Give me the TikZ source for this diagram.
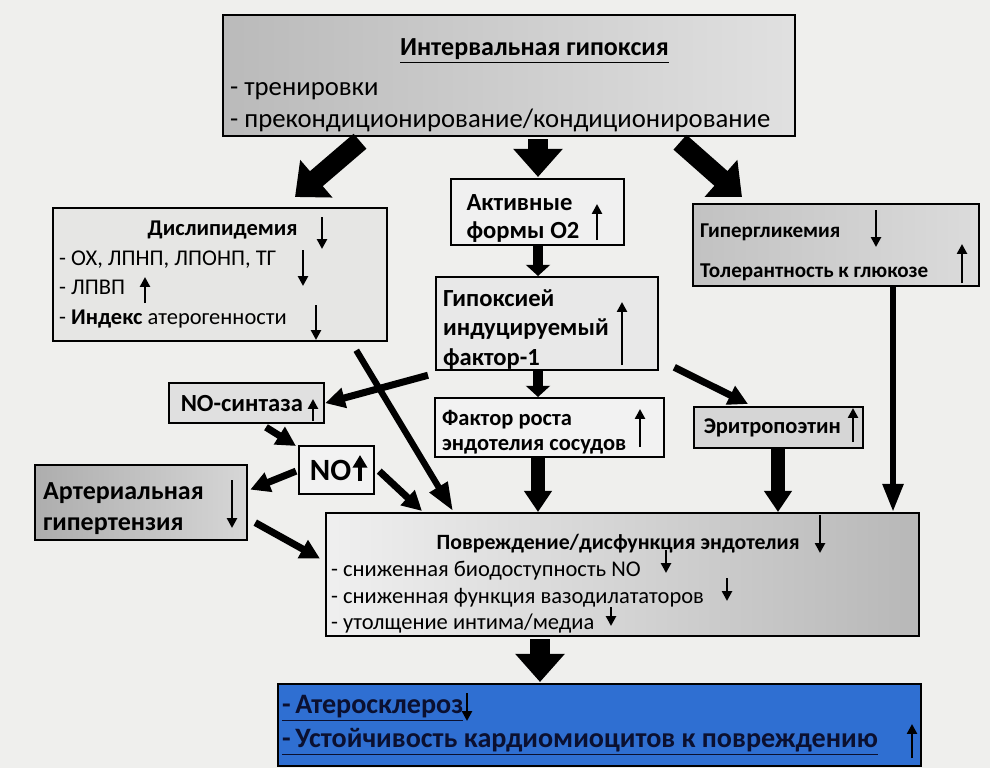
\documentclass[tikz,border=0pt]{standalone}
\usepackage{fontspec}
\setmainfont{Carlito}
\usetikzlibrary{arrows.meta, positioning}
\newcommand\pxl{0.025cm}
\newcommand\lift[1]{\rule{0pt}{#1}}
\definecolor{paper}{HTML}{EFEFED}
\definecolor{boxgray}{HTML}{E6E6E4}
\definecolor{bluebox}{HTML}{2F6FD2}
\definecolor{navy}{HTML}{0B1030}

\begin{document}
\begin{tikzpicture}[
  x=\pxl, y=-\pxl,
  box/.style={draw, line width=1.6pt, anchor=north west, align=flush left, inner ysep=0pt,
              font=\fontsize{16}{20}\selectfont\bfseries},
  fat/.style={-{Triangle[length=20pt,width=34pt]}, line width=14pt},
  mid/.style={-{Triangle[length=8pt,width=17pt]}, line width=7pt},
  slim/.style={-{Triangle[length=14pt,width=14pt]}, line width=5pt},
  tall/.style={-{Triangle[length=15pt,width=19pt]}, line width=10pt},
  thin/.style={-{Triangle[length=20pt,width=14pt]}, line width=4.5pt},
  mk/.style={-{Triangle[length=7pt,width=7pt]}, line width=1.8pt}
]
\useasboundingbox (0,0) rectangle (990,768);
\fill[paper] (0,0) rectangle (990,768);

% top: source
\node[box, left color=black!27, right color=black!12, minimum width=572*\pxl, minimum height=121*\pxl,
      text width=558*\pxl, inner xsep=7*\pxl, font=\fontsize{19}{23}\selectfont] (ihyp) at (222,14)
  {\makebox[\linewidth]{\lift{26pt}\hspace*{36pt}\fontsize{18.5}{23}\selectfont\bfseries\underline{Интервальная гипоксия}}\\[5pt]
   - тренировки\\
   - прекондиционирование/кондиционирование};

% row 2
\node[box, fill=boxgray, minimum width=334*\pxl, minimum height=133*\pxl, text width=322*\pxl,
      inner xsep=6*\pxl, font=\fontsize{16}{21}\selectfont] (dys) at (52,207)
  {\hspace*{63pt}\textbf{Дислипидемия}\\
   - ОХ, ЛПНП, ЛПОНП, ТГ\\
   - ЛПВП\\
   - \textbf{Индекс} атерогенности};
\node[box, fill=black!6, minimum width=173*\pxl, minimum height=66*\pxl, text width=159*\pxl,
      inner xsep=7*\pxl, font=\fontsize{17.5}{20}\selectfont\bfseries] (act) at (450,178)
  {\lift{21pt}\hspace*{6pt}Активные\\ \hspace*{6pt}формы О2};
\node[box, left color=black!24, right color=black!14, minimum width=286*\pxl, minimum height=82*\pxl,
      text width=272*\pxl, inner xsep=7*\pxl, font=\fontsize{15}{28}\selectfont\bfseries] (hyg) at (692,203)
  {\lift{20pt}Гипергликемия\\ Толерантность к глюкозе};

% row 3
\node[box, fill=black!9, minimum width=222*\pxl, minimum height=93*\pxl, text width=208*\pxl,
      inner xsep=7*\pxl, font=\fontsize{17.5}{21}\selectfont\bfseries] (hif) at (435,276)
  {\lift{20pt}Гипоксией\\ индуцируемый\\ фактор-1};
\node[box, fill=black!12, minimum width=155*\pxl, minimum height=40*\pxl, text width=143*\pxl,
      inner xsep=6*\pxl, font=\fontsize{17.5}{20}\selectfont\bfseries] (nos) at (168,382)
  {\hspace*{4pt}NO-синтаза};
\node[box, fill=black!5, minimum width=229*\pxl, minimum height=59*\pxl, text width=215*\pxl,
      inner xsep=7*\pxl, font=\fontsize{16}{18}\selectfont\bfseries] (vegf) at (434,397)
  {\lift{17pt}Фактор роста\\ эндотелия сосудов};
\node[box, fill=black!16, minimum width=169*\pxl, minimum height=41*\pxl, text width=161*\pxl,
      inner xsep=4*\pxl, font=\fontsize{16}{20}\selectfont\bfseries] (epo) at (693,406)
  {\hspace*{4pt}Эритропоэтин};
\node[box, fill=black!5, minimum width=75*\pxl, minimum height=48*\pxl, text width=59*\pxl,
      inner xsep=8*\pxl, font=\fontsize{22}{26}\selectfont\bfseries] (no) at (298,445)
  {\hspace*{2pt}NO};
\node[box, left color=black!32, right color=black!16, minimum width=212*\pxl, minimum height=75*\pxl,
      text width=196*\pxl, inner xsep=8*\pxl, font=\fontsize{18.5}{22}\selectfont\bfseries] (ah) at (34,464)
  {\lift{20pt}Артериальная\\ гипертензия};

% row 4: endothelium
\node[box, left color=black!6, right color=black!28, minimum width=593*\pxl, minimum height=123*\pxl,
      text width=583*\pxl, inner xsep=5*\pxl, font=\fontsize{16}{19}\selectfont] (endo) at (325,512)
  {\lift{24pt}\hspace*{75pt}{\fontsize{15.5}{19}\selectfont\bfseries Повреждение/дисфункция эндотелия}\\
   - сниженная биодоступность NO\\
   - сниженная функция вазодилататоров\\
   - утолщение интима/медиа};

% row 5: outcome
\node[box, fill=bluebox, text=navy, minimum width=643*\pxl, minimum height=82*\pxl, text width=635*\pxl,
      inner xsep=4*\pxl, font=\fontsize{20}{24}\selectfont\bfseries] (out) at (277,683)
  {\underline{-\,Атеросклероз}\\
   \underline{-\,Устойчивость кардиомиоцитов к повреждению}};

% connectors
\draw[fat]  ([shift={(138,4)}]ihyp.south west) -- ([shift={(243,-10)}]dys.north west);
\draw[fat]  ([shift={(316,2)}]ihyp.south west) -- ([shift={(88,-1)}]act.north west);
\draw[fat]  ([shift={(458,5)}]ihyp.south west) -- ([shift={(50,-6)}]hyg.north west);
\draw[mid]  ([shift={(88,0)}]act.south west) -- ([shift={(103,0)}]hif.north west);
\draw[mid]  ([shift={(103,0)}]hif.south west) -- ([shift={(104,0)}]vegf.north west);
\draw[slim] ([shift={(-7,4)}]hif.south west) -- (nos.east);
\draw[slim] ([shift={(15,-4)}]hif.south east) -- ([shift={(55,-2)}]epo.north west);
\draw[thin] ([shift={(-32,8)}]dys.south east) -- ([shift={(128,-1)}]endo.north west);
\draw[slim] ([shift={(98,3)}]nos.south west) -- ([shift={(-2,1)}]no.north west);
\draw[slim] ([shift={(-2,1)}]no.west) -- ([shift={(2,-13)}]ah.east);
\draw[slim] ([shift={(4,1)}]no.east) -- ([shift={(97,-1)}]endo.north west);
\draw[slim] ([shift={(7,20)}]ah.east) -- ([shift={(-5,-16)}]endo.west);
\draw[tall] ([shift={(104,0)}]vegf.south west) -- ([shift={(213,0)}]endo.north west);
\draw[tall] ([shift={(85,0)}]epo.south west) -- ([shift={(453,0)}]endo.north west);
\draw[thin] ([shift={(201,0)}]hyg.south west) -- ([shift={(568,0)}]endo.north west);
\draw[fat]  ([shift={(215,2)}]endo.south west) -- ([shift={(263,-1)}]out.north west);

% up / down marks inside the boxes
\foreach \x/\a/\b in {322/217/249, 303/250/286, 145/303/277, 316/305/340,
                      597/240/204, 622/365/302, 876/210/247, 962/283/244,
                      313/421/399, 640/447/409, 853/442/408, 232/480/528,
                      820/515/553, 666/550/573, 727/578/601, 611/607/626,
                      467/693/721, 912/758/724}
  \draw[mk] (\x,\a) -- (\x,\b);
\draw[-{Triangle[length=9pt,width=10pt]}, line width=3pt] (360,481) -- (360,455);

\end{tikzpicture}
\end{document}
